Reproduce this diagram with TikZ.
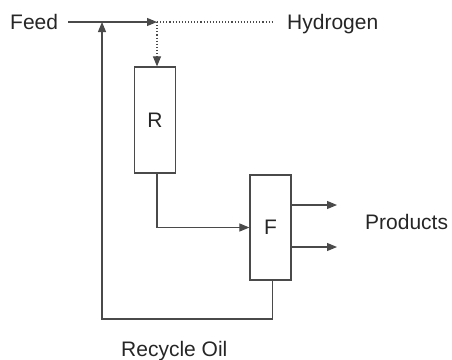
\documentclass[tikz,border=0pt]{standalone}
\usepackage{fontspec}
\setmainfont{Liberation Sans}
\usetikzlibrary{arrows.meta,positioning,calc}
\definecolor{LineGray}{HTML}{4A4A4A}
\definecolor{TextGray}{HTML}{262626}

\begin{document}
\begin{tikzpicture}[x=1pt,y=-1pt, every node/.style={font=\fontsize{21}{25}\selectfont,inner sep=0pt,text=TextGray},
    unit/.style={draw=LineGray,line width=1.2pt,minimum width=41pt,minimum height=106pt},
    flow/.style={draw=LineGray,line width=1.1pt},
    tip/.style={-{Triangle[length=10pt,width=8pt]}}]
    \useasboundingbox (0,0) rectangle (452,359);
    \node[unit] (r) at (155,120) {R};
    \node[unit,minimum height=105pt] (f) at (270.5,227.5) {F};
    \node[anchor=base west] (feed) at (10,29.5) {Feed};
    \node[anchor=base west] (hyd) at (287,29.5) {Hydrogen};
    \node[anchor=base west] (prod) at (365,229) {Products};
    \node[anchor=base west] (recycle) at (121,356) {Recycle Oil};
    \coordinate (mix) at (157,22);
    \coordinate (ret) at (102,319);
    \coordinate (p1) at (337,205);
    \coordinate (p2) at (337,247);
    \draw[flow,tip,shorten <=10pt] (feed.east |- mix) -- (mix);
    \draw[flow,dotted,shorten >=14pt] (mix) -- (hyd.west |- mix);
    \draw[flow,dotted,tip] (mix) -- (mix |- r.north);
    \draw[flow,tip] (r.south -| mix) |- (f.west);
    \foreach \p in {p1,p2}{\draw[flow,tip] (f.east |- \p) -- (\p);}
    \draw[flow,tip] ([xshift=2pt]f.south) -- ([xshift=2pt]f.south |- ret) -- (ret) -- (ret |- mix);
  \end{tikzpicture}
\end{document}
